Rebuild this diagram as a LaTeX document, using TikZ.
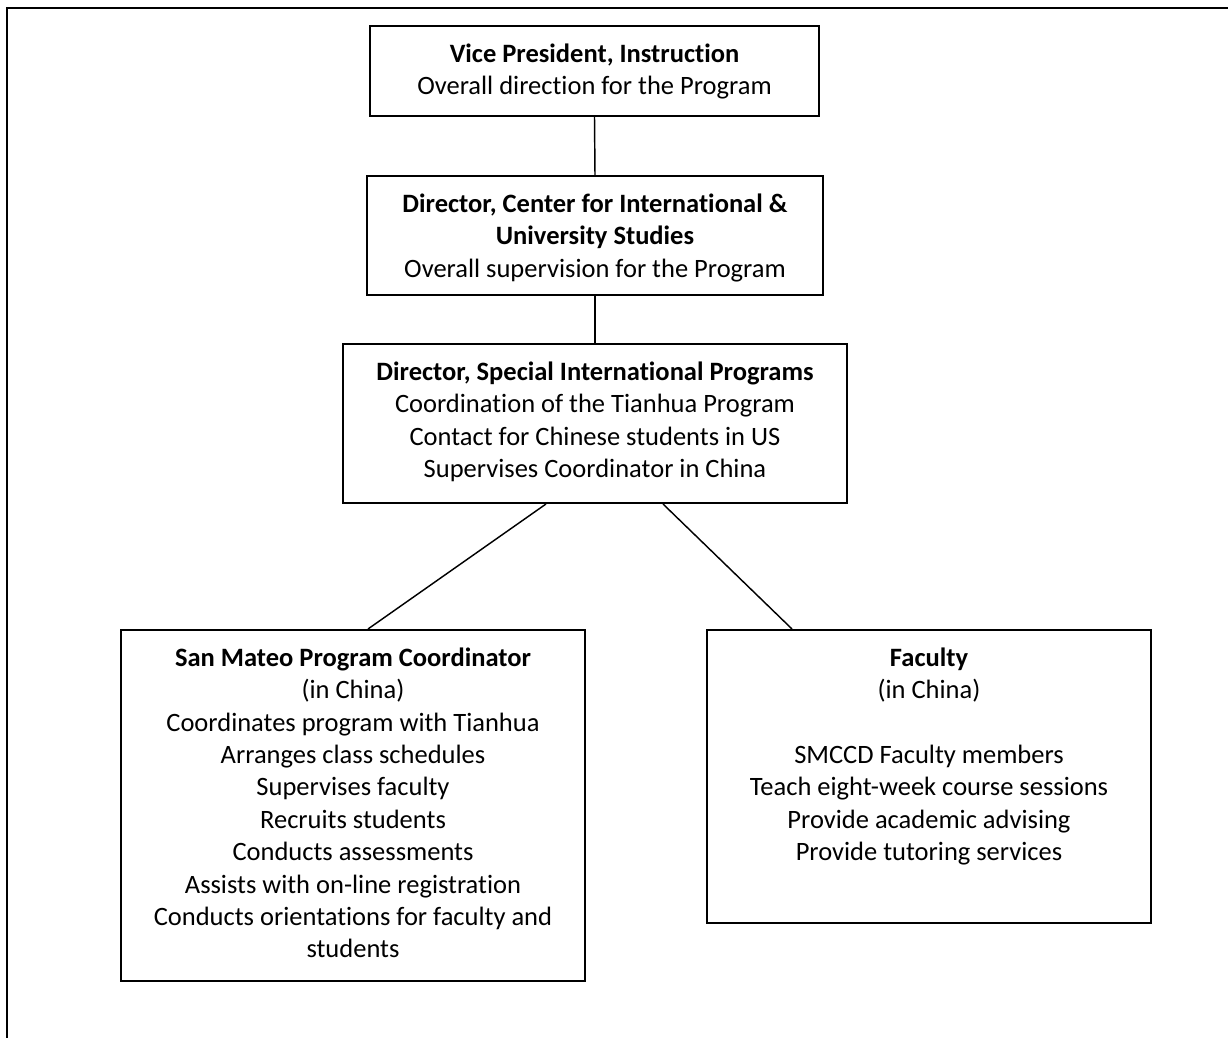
\documentclass[tikz,border=0pt]{standalone}
\usepackage{fontspec}
\setmainfont{Carlito}[Ligatures=NoCommon]
\usetikzlibrary{calc}
\def\u{0.415pt}
\tikzset{
  orgbox/.style={draw, line width=0.83pt, inner sep=0pt},
  orgtxt/.style={anchor=north, align=center, inner sep=0pt,
    font=\fontsize{11pt}{13.43pt}\selectfont},
  conn/.style={line width=0.6pt},
  frame/.style={line width=0.9pt}
}
\begin{document}
\begin{tikzpicture}[x=0.415pt, y=-0.415pt]
\useasboundingbox (0,0) rectangle (1228,1038);
% outer frame (left and top)
\coordinate (f1) at (7,1040);
\coordinate (f2) at (7,7.7);
\coordinate (f3) at (1230,7.7);
\draw[frame] (f1) -- (f2) -- (f3);

% boxes
\node[orgbox, minimum width=449*\u, minimum height=90*\u] (vp) at (594.5,71) {};
\node[orgbox, minimum width=456*\u, minimum height=119*\u] (cius) at (595,235.5) {};
\node[orgbox, minimum width=504*\u, minimum height=159*\u] (dsip) at (595,423.5) {};
\node[orgbox, minimum width=464*\u, minimum height=351*\u] (smpc) at (353,805.5) {};
\node[orgbox, minimum width=444*\u, minimum height=293*\u] (fac) at (929,776.5) {};

% texts
\node[orgtxt] (vpt) at ($(vp.north)+(0,14.4)$)
  {\strut\textbf{Vice President, Instruction}\\Overall direction for the Program};
\node[orgtxt] (ciust) at ($(cius.north)+(0,14.4)$)
  {\strut\textbf{Director, Center for International \&}\\\textbf{University Studies}\\Overall supervision for the Program};
\node[orgtxt] (dsipt) at ($(dsip.north)+(0,14.4)$)
  {\strut\textbf{Director, Special International Programs}\\Coordination of the Tianhua Program\\Contact for Chinese students in US\\Supervises Coordinator in China};
\node[orgtxt] (smpct) at ($(smpc.north)+(0,14.4)$)
  {\strut\textbf{San Mateo Program Coordinator}\\(in China)\\Coordinates program with Tianhua\\Arranges class schedules\\Supervises faculty\\Recruits students\\Conducts assessments\\Assists with on-line registration\\Conducts orientations for faculty and\\students};
\node[orgtxt] (fact) at ($(fac.north)+(0,14.4)$)
  {\strut\textbf{Faculty}\\(in China)\\\strut\\SMCCD Faculty members\\Teach eight-week course sessions\\Provide academic advising\\Provide tutoring services};

% connectors
\draw[conn] (vp.south) -- (cius.north);
\draw[conn] (cius.south) -- (dsip.north);
\draw[conn] ($(dsip.south)+(-49,0)$) -- ($(smpc.north)+(15,0)$);
\draw[conn] ($(dsip.south)+(68,0)$) -- ($(fac.north)+(-137,0)$);
\end{tikzpicture}
\end{document}
